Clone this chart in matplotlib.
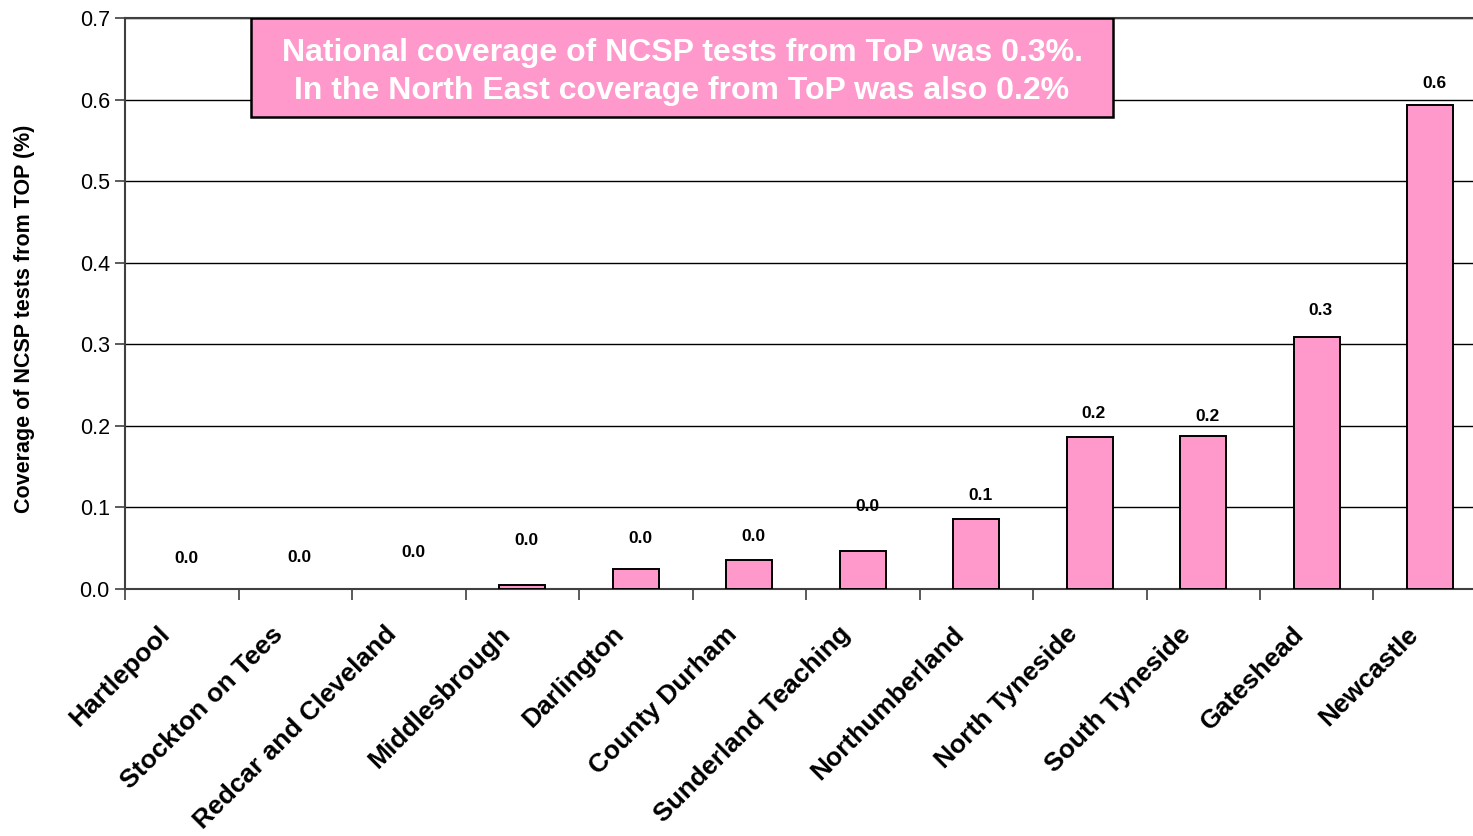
import matplotlib
matplotlib.use("Agg")
import matplotlib.pyplot as plt
from matplotlib.patches import Rectangle
from matplotlib.transforms import ScaledTranslation
import numpy as np

plt.rcParams['font.family'] = ['Liberation Sans', 'DejaVu Sans']

# Trusts and their coverage of NCSP tests from ToP (%)
trusts = ["Hartlepool", "Stockton on Tees", "Redcar and Cleveland", "Middlesbrough",
          "Darlington", "County Durham", "Sunderland Teaching", "Northumberland",
          "North Tyneside", "South Tyneside", "Gateshead", "Newcastle"]
coverage = [0.0, 0.0, 0.0, 0.005, 0.0245, 0.0355, 0.0466, 0.0858,
            0.186, 0.1875, 0.309, 0.593]
yticks = [0.0, 0.1, 0.2, 0.3, 0.4, 0.5, 0.6, 0.7]
note_lines = ["National coverage of NCSP tests from ToP was 0.3%.",
              "In the North East coverage from ToP was also 0.2%"]

# vertical offset of each value label above its bar (points)
label_offsets = [22, 23, 26, 32, 22, 17, 32, 17, 17, 14, 19, 16]

PINK = "#FF99CC"
SPINE = "#404040"

fig = plt.figure(figsize=(14.73, 8.36), dpi=100)
ax = fig.add_axes([0.0849, 0.2955, 0.9246, 0.683])

x = np.arange(len(trusts))
edge_widths = [1.4 if v > 0 else 0 for v in coverage]
ax.bar(x, coverage, width=0.405, color=PINK, edgecolor="black",
       linewidth=edge_widths, zorder=3)

for xi, v, off in zip(x, coverage, label_offsets):
    ax.annotate(f"{v:.1f}", xy=(xi, v), xytext=(3, off), textcoords="offset points",
                ha="center", va="center", fontsize=12.5, fontweight="bold", zorder=4)

ax.set_xlim(-0.5, len(trusts) - 0.5)
ax.set_ylim(0, 0.7)
ax.set_yticks(yticks)
ax.set_yticklabels([f"{t:.1f}" for t in yticks], fontsize=15.5)
ax.tick_params(axis="y", direction="out", length=7, width=1.2, color=SPINE, pad=4)

# category labels at centres, tick marks at the boundaries
ax.set_xticks(x)
ax.set_xticklabels(trusts, rotation=45, ha="right", va="center",
                   rotation_mode="anchor", fontsize=19, fontweight="bold")
ax.tick_params(axis="x", which="major", length=0, pad=30)
for lab in ax.get_xticklabels():
    lab.set_transform(lab.get_transform() + ScaledTranslation(-0.16, 0, fig.dpi_scale_trans))
ax.set_xticks(np.arange(-0.5, len(trusts)), minor=True)
ax.tick_params(axis="x", which="minor", direction="out", length=8, width=1.2, color=SPINE)

ax.set_ylabel("Coverage of NCSP tests from TOP (%)", fontsize=15.5, fontweight="bold")
ax.yaxis.set_label_coords(-0.066, 0.473)

ax.set_axisbelow(True)
ax.yaxis.grid(True, color="black", linewidth=1.0)
ax.xaxis.grid(False)
for side in ["left", "bottom", "top"]:
    ax.spines[side].set_color(SPINE)
    ax.spines[side].set_linewidth(1.5)
ax.spines["right"].set_visible(False)

# note box in the upper part of the plot
bx, by, bw, bh = 0.61, 0.578, 7.595, 0.122
ax.add_patch(Rectangle((bx, by), bw, bh, facecolor=PINK, edgecolor="black",
                       linewidth=1.8, zorder=5))
ax.text(bx + bw / 2, by + bh / 2 - 0.0055, "\n".join(note_lines), ha="center",
        va="center", fontsize=23, fontweight="bold", color="white", linespacing=1.36,
        zorder=6)

fig.savefig("out.png", dpi=100)
